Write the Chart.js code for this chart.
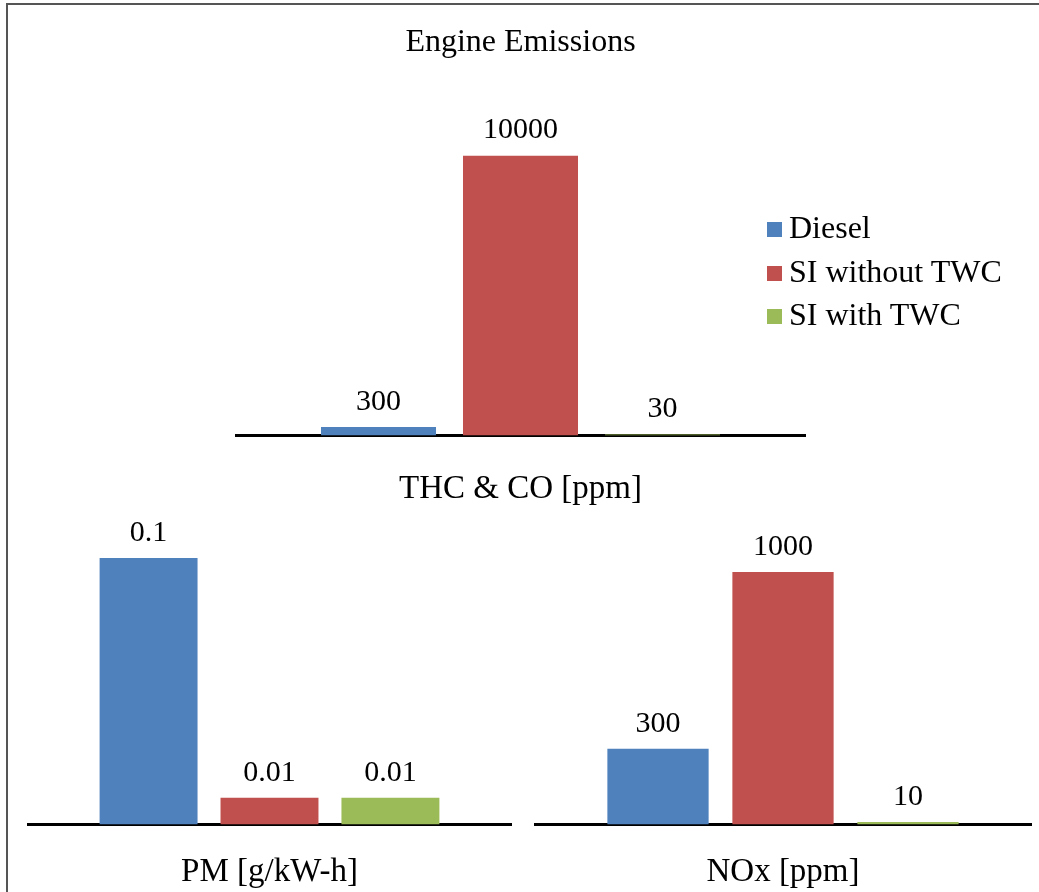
<!DOCTYPE html>
<html>
<head>
<meta charset="utf-8">
<script src="https://cdn.jsdelivr.net/npm/chart.js@4"></script>
<style>
  body { margin: 0; background: #fff; }
  #page { position: relative; width: 1039px; height: 892px; overflow: hidden; background: #fff; }
  #frame { position: absolute; left: 6px; top: 3px; width: 1100px; height: 1000px;
           border-left: 2px solid #555; border-top: 2px solid #555; }
  canvas { position: absolute; }
  #legend { position: absolute; left: 767px; top: 206px; font-family: "Liberation Serif", serif;
            font-size: 32px; color: #000; }
  .item { height: 43.5px; line-height: 43.5px; white-space: nowrap; }
  .box { display: inline-block; width: 15px; height: 15px; margin-right: 7px; vertical-align: 1px; }
</style>
</head>
<body>
<div id="page">
  <div id="frame"></div>
  <canvas id="thc" width="571" height="538" style="left:235px;top:5px"></canvas>
  <canvas id="pm" width="485" height="407" style="left:27px;top:513px"></canvas>
  <canvas id="nox" width="498" height="393" style="left:534px;top:527px"></canvas>
  <div id="legend"></div>
</div>
<script>
const chartTitle = "Engine Emissions";
const seriesNames = ["Diesel", "SI without TWC", "SI with TWC"];
const seriesColors = ["#4F81BD", "#C0504D", "#9BBB59"];
const categories = ["THC & CO [ppm]", "PM [g/kW-h]", "NOx [ppm]"];
const thcCoValues = [300, 10000, 30];
const pmValues = [0.1, 0.01, 0.01];
const noxValues = [300, 1000, 10];
const axisMax = [10000, 0.1, 1000];

const serif = "Liberation Serif";

// value labels above each bar
const valueLabels = {
    id: "valueLabels",
    afterDatasetsDraw(chart) {
        const ctx = chart.ctx;
        ctx.save();
        ctx.font = "30px '" + serif + "'";
        ctx.fillStyle = "#000";
        ctx.textAlign = "center";
        ctx.textBaseline = "middle";
        chart.data.datasets.forEach((ds, i) => {
            chart.getDatasetMeta(i).data.forEach((bar, j) => {
                ctx.fillText(String(ds.data[j]), bar.x, bar.y - 25);
            });
        });
        ctx.restore();
    }
};

function makeChart(id, category, values, max, labelPad, catPct, withTitle) {
    const datasets = seriesNames.map((name, i) => ({
        label: name,
        data: [values[i]],
        backgroundColor: seriesColors[i],
        borderWidth: 0,
        categoryPercentage: catPct,
        barPercentage: 0.81
    }));
    return new Chart(document.getElementById(id).getContext("2d"), {
        type: "bar",
        data: { labels: [category], datasets: datasets },
        plugins: [valueLabels],
        options: {
            responsive: false,
            animation: false,
            layout: { padding: { top: withTitle ? 0 : 45, left: 0, right: 0, bottom: 0 } },
            plugins: {
                legend: { display: false },
                tooltip: { enabled: false },
                title: {
                    display: withTitle,
                    text: chartTitle,
                    color: "#000",
                    font: { family: serif, size: 32, weight: "normal" },
                    padding: { top: 18, bottom: 94 }
                }
            },
            scales: {
                x: {
                    grid: { display: false, drawTicks: false },
                    border: { display: true, color: "#000", width: 3 },
                    ticks: { color: "#000", padding: labelPad, maxRotation: 0,
                             font: { family: serif, size: 33 } }
                },
                y: { display: false, min: 0, max: max }
            }
        }
    });
}

makeChart("thc", categories[0], thcCoValues, axisMax[0], 34, 0.746, true);
makeChart("pm", categories[1], pmValues, axisMax[1], 28, 0.748, false);
makeChart("nox", categories[2], noxValues, axisMax[2], 28, 0.753, false);

// legend
const legend = document.getElementById("legend");
seriesNames.forEach((name, i) => {
    const row = document.createElement("div");
    row.className = "item";
    const box = document.createElement("span");
    box.className = "box";
    box.style.background = seriesColors[i];
    row.appendChild(box);
    row.appendChild(document.createTextNode(name));
    legend.appendChild(row);
});
</script>
</body>
</html>
